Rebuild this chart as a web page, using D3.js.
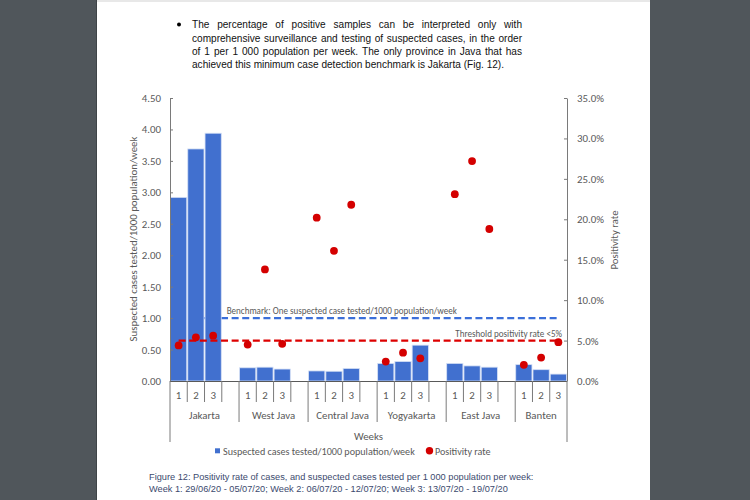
<!DOCTYPE html>
<html>
<head>
<meta charset="utf-8">
<script src="https://cdn.jsdelivr.net/npm/d3@7"></script>
<style>
  html, body { margin: 0; padding: 0; background: #50565b; }
  svg { display: block; }
</style>
</head>
<body>
<svg id="chart" width="750" height="500"></svg>
<script>
// ---------------- DATA ----------------
const groups = ["Jakarta", "West Java", "Central Java", "Yogyakarta", "East Java", "Banten"];
const weeks = ["1", "2", "3"];
// Suspected cases tested / 1000 population / week (left axis), per group, weeks 1-3
const testedValues = [
  2.92, 3.69, 3.94,
  0.21, 0.22, 0.19,
  0.16, 0.155, 0.20,
  0.28, 0.31, 0.57,
  0.28, 0.24, 0.22,
  0.26, 0.18, 0.11
];
// Positivity rate in % (right axis)
const positivityValues = [
  4.4, 5.4, 5.6,
  4.5, 13.8, 4.6,
  20.2, 16.1, 21.8,
  2.4, 3.5, 2.8,
  23.1, 27.2, 18.8,
  2.0, 2.9, 4.8
];
const leftTicks = [0, 0.5, 1, 1.5, 2, 2.5, 3, 3.5, 4, 4.5];
const rightTicks = [0, 5, 10, 15, 20, 25, 30, 35];
const benchmarkTested = 1.0;
const thresholdPositivity = 5.0;
const paragraphLines = [
  "The percentage of positive samples can be interpreted only with",
  "comprehensive surveillance and testing of suspected cases, in the order",
  "of 1 per 1 000 population per week. The only province in Java that has",
  "achieved this minimum case detection benchmark is Jakarta (Fig. 12)."
];
const captionLines = [
  "Figure 12: Positivity rate of cases, and suspected cases tested per 1 000 population per week:",
  "Week 1: 29/06/20 - 05/07/20; Week 2: 06/07/20 - 12/07/20; Week 3: 13/07/20 - 19/07/20"
];

// ---------------- BUILD ----------------
const rows = [];
groups.forEach((g, gi) => weeks.forEach((w, wi) => {
  rows.push({ group: g, week: w, key: g + "|" + w,
              tested: testedValues[gi * 3 + wi], pos: positivityValues[gi * 3 + wi] });
}));
const slots = [];
groups.forEach((g, gi) => {
  weeks.forEach(w => slots.push(g + "|" + w));
  if (gi < groups.length - 1) slots.push(g + "|blank");
});

const svg = d3.select("#chart");
const chartFont = "Carlito, Lato, 'Open Sans', sans-serif";
const docFont = "'Liberation Sans', Arial, sans-serif";
const gray = "#595959";

function fitWidth(sel, w) {
  const n = sel.node();
  const cur = n.getComputedTextLength();
  const fs = parseFloat(sel.attr("font-size"));
  sel.attr("font-size", fs * w / cur);
  return fs * w / cur;
}

// page
svg.append("rect").attr("x", 0).attr("y", 0).attr("width", 750).attr("height", 500).attr("fill", "#50565b");
svg.append("rect").attr("x", 97).attr("y", 0).attr("width", 553).attr("height", 500).attr("fill", "#ffffff");
svg.append("line").attr("x1", 96.5).attr("x2", 96.5).attr("y1", 0).attr("y2", 500).attr("stroke", "#3f4448");
svg.append("rect").attr("x", 97).attr("y", 0).attr("width", 553).attr("height", 2).attr("fill", "#e8e8e8");

// paragraph (justified word by word)
svg.append("circle").attr("cx", 179).attr("cy", 24.5).attr("r", 2).attr("fill", "#000");
const pBase = [28.3, 41.6, 54.8, 68];
const pLeft = 192, pRight = 522;
const measure = svg.append("text").attr("font-family", docFont).attr("font-size", 12).text(paragraphLines[3]);
const pSize = fitWidth(measure, 312.5);
const spaceW = (function () {
  measure.text("a a"); const a2 = measure.node().getComputedTextLength();
  measure.text("aa"); return a2 - measure.node().getComputedTextLength();
})();
paragraphLines.forEach((t, i) => {
  const words = t.split(" ");
  const widths = words.map(w => { measure.text(w); return measure.node().getComputedTextLength(); });
  const total = d3.sum(widths);
  const gap = i < 3 ? (pRight - pLeft - total) / (words.length - 1) : spaceW;
  const tx = svg.append("text").attr("y", pBase[i]).attr("font-family", docFont)
    .attr("font-size", pSize).attr("fill", "#111");
  let cx = pLeft;
  words.forEach((w, wi) => {
    tx.append("tspan").attr("x", cx).text(w);
    cx += widths[wi] + gap;
  });
});
measure.remove();

// scales
const x0 = 170, x1 = 567, yTop = 98, yBot = 381;
const pad = 0.06;
const x = d3.scaleBand().domain(slots).range([x0, x1]).paddingInner(pad).paddingOuter(pad / 2);
const step = x.step();
const yL = d3.scaleLinear().domain([0, 4.5]).range([yBot, yTop]);
const yR = d3.scaleLinear().domain([0, 35]).range([yBot, yTop]);

// benchmark line (behind bars)
const lineX1 = x(slots[0]) + x.bandwidth() / 2;
const lineX2 = x(slots[slots.length - 1]) + x.bandwidth() / 2;
svg.append("line").attr("x1", lineX1).attr("x2", lineX2)
  .attr("y1", yL(benchmarkTested)).attr("y2", yL(benchmarkTested))
  .attr("stroke", "#3b6fd9").attr("stroke-width", 2.2).attr("stroke-dasharray", "7,3.6");

// bars
svg.append("g").selectAll("rect").data(rows).join("rect")
  .attr("x", d => x(d.key)).attr("width", x.bandwidth())
  .attr("y", d => yL(d.tested)).attr("height", d => yBot - yL(d.tested))
  .attr("fill", "#4170cf").attr("stroke", "#d5e0f5").attr("stroke-width", 0.8);

// threshold line (in front of bars)
svg.append("line").attr("x1", lineX1).attr("x2", lineX2)
  .attr("y1", yR(thresholdPositivity)).attr("y2", yR(thresholdPositivity))
  .attr("stroke", "#dd0000").attr("stroke-width", 2.2).attr("stroke-dasharray", "7,3.6");

// line labels
const bl = svg.append("text").attr("x", 226.7).attr("y", 314).attr("font-family", chartFont)
  .attr("font-size", 9.5).attr("fill", gray).text("Benchmark: One suspected case tested/1000 population/week");
fitWidth(bl, 230.5);
const tl = svg.append("text").attr("x", 562).attr("y", 337).attr("text-anchor", "end").attr("font-family", chartFont)
  .attr("font-size", 9.5).attr("fill", gray).text("Threshold positivity rate <5%");
fitWidth(tl, 107);

// dots
svg.append("g").selectAll("circle").data(rows).join("circle")
  .attr("cx", d => x(d.key) + x.bandwidth() / 2).attr("cy", d => yR(d.pos))
  .attr("r", 3.9).attr("fill", "#d40000");

// axes
const axisColor = "#7a7a7a";
const probe = svg.append("text").attr("font-family", chartFont).attr("font-size", 11).text("4.50");
const tickSize = fitWidth(probe, 19.3);
probe.remove();

const gL = svg.append("g").attr("transform", `translate(${x0},0)`)
  .call(d3.axisLeft(yL).tickValues(leftTicks).tickFormat(d3.format(".2f")).tickSizeInner(-3).tickSizeOuter(0).tickPadding(9));
const gR = svg.append("g").attr("transform", `translate(${x1},0)`)
  .call(d3.axisRight(yR).tickValues(rightTicks).tickFormat(d => d3.format(".1f")(d) + "%").tickSizeInner(-3).tickSizeOuter(0).tickPadding(10));
[gL, gR].forEach(g => {
  g.select(".domain").attr("stroke", axisColor);
  g.selectAll(".tick line").attr("stroke", axisColor);
  g.selectAll(".tick text").attr("font-family", chartFont).attr("font-size", tickSize).attr("fill", gray);
});

// bottom axis line
svg.append("line").attr("x1", x0).attr("x2", x1).attr("y1", yBot + 0.5).attr("y2", yBot + 0.5).attr("stroke", "#595959").attr("stroke-width", 1.2);

// category separators
const boundaries = d3.range(slots.length + 1).map(i => x0 + i * step);
const gX = svg.append("g");
boundaries.forEach((bx, i) => {
  let len = 402;
  const isGroupEdge = (i % 4 === 0);
  if (isGroupEdge) len = 422;
  if (i === 0 || i === slots.length) len = 442;
  gX.append("line").attr("x1", bx).attr("x2", bx).attr("y1", yBot).attr("y2", len)
    .attr("stroke", axisColor).attr("stroke-width", 1);
});
// week labels
gX.selectAll("text.week").data(rows).join("text").attr("class", "week")
  .attr("x", d => x(d.key) + x.bandwidth() / 2).attr("y", 399)
  .attr("text-anchor", "middle").attr("font-family", chartFont).attr("font-size", tickSize).attr("fill", gray)
  .text(d => d.week);
// group labels
groups.forEach((g, gi) => {
  const start = x0 + gi * 4 * step;
  const end = Math.min(x1, start + 4 * step);
  gX.append("text").attr("x", (start + end) / 2).attr("y", 418.5)
    .attr("text-anchor", "middle").attr("font-family", chartFont).attr("font-size", tickSize).attr("fill", gray)
    .text(g);
});
svg.append("text").attr("x", (x0 + x1) / 2).attr("y", 440)
  .attr("text-anchor", "middle").attr("font-family", chartFont).attr("font-size", tickSize).attr("fill", gray)
  .text("Weeks");

// axis titles
const lt = svg.append("text").attr("transform", "translate(137,239) rotate(-90)")
  .attr("text-anchor", "middle").attr("font-family", chartFont).attr("font-size", 11).attr("fill", gray)
  .text("Suspected cases tested/1000 population/week");
fitWidth(lt, 205);
const rt = svg.append("text").attr("transform", "translate(618,240) rotate(-90)")
  .attr("text-anchor", "middle").attr("font-family", chartFont).attr("font-size", 11).attr("fill", gray)
  .text("Positivity rate");
fitWidth(rt, 59);

// legend
svg.append("rect").attr("x", 215).attr("y", 448.3).attr("width", 5).attr("height", 5).attr("fill", "#4170cf");
const lg1 = svg.append("text").attr("x", 223).attr("y", 454.5).attr("font-family", chartFont)
  .attr("font-size", 11).attr("fill", gray).text("Suspected cases tested/1000 population/week");
fitWidth(lg1, 192);
svg.append("circle").attr("cx", 429.5).attr("cy", 450.8).attr("r", 3.7).attr("fill", "#d40000");
const lg2 = svg.append("text").attr("x", 435).attr("y", 454.5).attr("font-family", chartFont)
  .attr("font-size", 11).attr("fill", gray).text("Positivity rate");
fitWidth(lg2, 55.7);

// caption
const c1 = svg.append("text").attr("x", 149).attr("y", 480).attr("font-family", docFont)
  .attr("font-size", 11).attr("fill", "#3c4a6e").text(captionLines[0]);
const cSize = fitWidth(c1, 385);
svg.append("text").attr("x", 149).attr("y", 491.5).attr("font-family", docFont)
  .attr("font-size", cSize).attr("fill", "#3c4a6e").text(captionLines[1]);
</script>
</body>
</html>
